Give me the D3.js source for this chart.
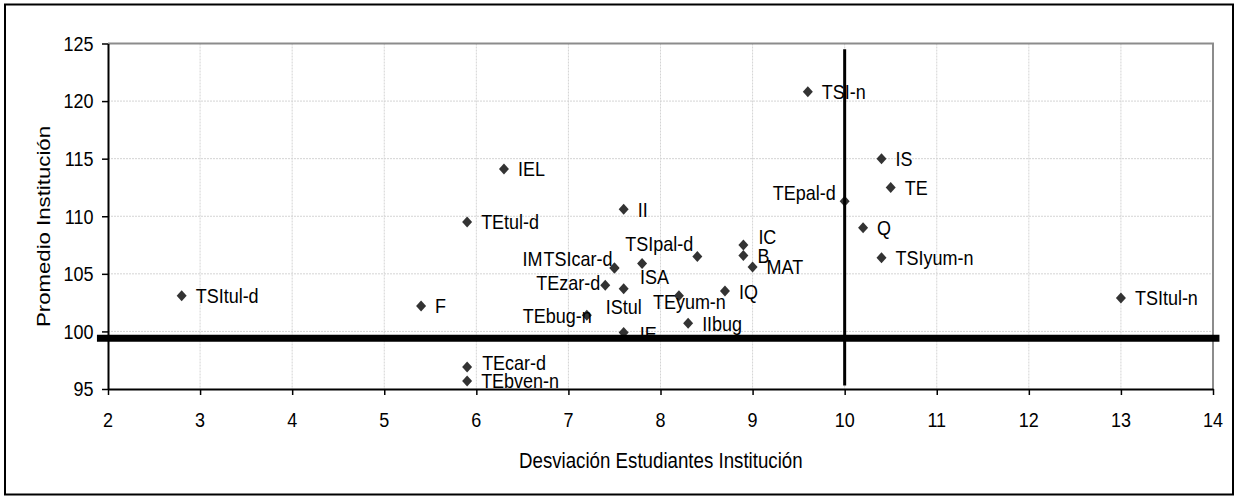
<!DOCTYPE html>
<html><head><meta charset="utf-8">
<script src="https://cdn.jsdelivr.net/npm/d3@7"></script>
<style>
body{margin:0;background:#fff}
svg{display:block}
text{font-family:"Liberation Sans",Arial,sans-serif;fill:#000}
</style>
</head><body>
<svg id="chart" width="1237" height="499"></svg>
<script>
// ---- data ----
const names = ["TSItul-d","F","TEcar-d","TEbven-n","IEL","TEtul-d","II","IM","TSIcar-d","TEzar-d",
  "IStul","TEbug-n","IE","ISA","TSIpal-d","TEyum-n","IIbug","IQ","IC","B","MAT","TSI-n",
  "TEpal-d","IS","TE","Q","TSIyum-n","TSItul-n"];
const xValues = [2.8,5.4,5.9,5.9,6.3,5.9,7.6,7.5,7.5,7.4,
  7.6,7.2,7.6,7.8,8.4,8.2,8.3,8.7,8.9,8.9,9.0,9.6,
  10.0,10.4,10.5,10.2,10.4,13.0];
const yValues = [103.1,102.2,96.9,95.7,114.1,109.5,110.6,105.5,105.5,104.0,
  103.7,101.4,99.9,105.9,106.5,103.1,100.7,103.5,107.5,106.6,105.6,120.8,
  111.3,115.0,112.5,109.0,106.4,102.9];
const xTicks = [2,3,4,5,6,7,8,9,10,11,12,13,14];
const yTicks = [95,100,105,110,115,120,125];
const xDomain = [2,14];
const yDomain = [95,125];
const xTitle = "Desviación Estudiantes Institución";
const yTitle = "Promedio Institución";
// reference lines (drawn shapes)
const refXValue = 10, refXFrom = 95.3, refXTo = 124.5;
const refYValue = 99.4, refYFrom = 1.88, refYTo = 14.07;

// ---- layout (label placement: anchor, dx, dy in px) ----
const labelPlace = {
  "TEcar-d":["start",15,-5], "IC":["start",15,-8], "TEyum-n":["start",-26,6],
  "TSIpal-d":["end",-4,-13], "ISA":["start",-2,13], "TSIcar-d":["end",-2,-9],
  "IM":["end",-72,-9], "TEzar-d":["end",-5,-3], "IStul":["start",-18,18],
  "TEbug-n":["end",5,0], "IE":["start",16,1], "TEpal-d":["end",-9,-9]
};
const SY = 1.15; // vertical stretch of the original rendering
const FONT = 18;

const svg = d3.select("#chart");
const L = 108, R = 1213, T = 43.5, B = 389;
const x = d3.scaleLinear().domain(xDomain).range([L,R]);
const y = d3.scaleLinear().domain(yDomain).range([B,T]);

// outer frame
svg.append("rect").attr("x",5).attr("y",4.5).attr("width",1228).attr("height",490)
  .attr("fill","none").attr("stroke","#000").attr("stroke-width",2);

// gridlines
const grid = svg.append("g");
grid.selectAll("line.v").data(xTicks.slice(1,-1)).join("line")
  .attr("x1",d=>x(d)).attr("x2",d=>x(d)).attr("y1",T).attr("y2",B)
  .attr("stroke","#d4d4d4").attr("stroke-width",1).attr("stroke-dasharray","2,1");
grid.selectAll("line.h").data(yTicks.slice(1,-1)).join("line")
  .attr("x1",L).attr("x2",R).attr("y1",d=>y(d)).attr("y2",d=>y(d))
  .attr("stroke","#d4d4d4").attr("stroke-width",1).attr("stroke-dasharray","2,1");

// plot-area border (top & right, gray)
svg.append("path").attr("d",`M${L},${T}H${R}V${B}`).attr("fill","none")
  .attr("stroke","#8c8c8c").attr("stroke-width",2);

// axes
const ax = svg.append("g").attr("transform",`translate(0,${B})`)
  .call(d3.axisBottom(x).tickValues(xTicks).tickSize(6).tickSizeOuter(0).tickFormat(""));
const ay = svg.append("g").attr("transform",`translate(${L},0)`)
  .call(d3.axisLeft(y).tickValues(yTicks).tickSize(6).tickSizeOuter(0).tickFormat(""));
[ax,ay].forEach(g=>{
  g.select(".domain").attr("stroke","#000").attr("stroke-width",2);
  g.selectAll(".tick line").attr("stroke","#000").attr("stroke-width",1.5);
});

function stretchText(sel, px, py){
  sel.attr("transform", (d,i)=>`translate(${px(d,i)},${py(d,i)}) scale(1,${SY})`);
}
// tick labels
svg.append("g").selectAll("text").data(xTicks).join("text")
  .attr("text-anchor","middle").style("font-size",FONT+"px").text(d=>d)
  .call(stretchText, d=>x(d), ()=>427.3);
svg.append("g").selectAll("text").data(yTicks).join("text")
  .attr("text-anchor","end").style("font-size",FONT+"px").text(d=>d)
  .call(stretchText, ()=>93.5, d=>y(d)+7.4);

// axis titles
svg.append("text").attr("text-anchor","middle").style("font-size","18.7px")
  .attr("transform",`translate(660.8,467.5) scale(1,${SY})`).text(xTitle);
svg.append("text").attr("text-anchor","middle").style("font-size","18.5px")
  .attr("transform",`translate(50,226.5) rotate(-90) scale(1.2,1)`).text(yTitle);

// points
const pts = names.map((n,i)=>({name:n, xv:xValues[i], yv:yValues[i]}));
const sym = d3.symbol().type(d3.symbolSquare).size(50);
svg.append("g").selectAll("path").data(pts).join("path")
  .attr("d",sym)
  .attr("transform",d=>`translate(${x(d.xv)},${y(d.yv)}) scale(1,1.1) rotate(45)`)
  .attr("fill","#333");

// labels
svg.append("g").selectAll("text").data(pts).join("text")
  .style("font-size",FONT+"px")
  .attr("text-anchor",d=>(labelPlace[d.name]||["start"])[0])
  .text(d=>d.name)
  .call(stretchText,
    d=>x(d.xv)+(labelPlace[d.name]||["start",14,0])[1],
    d=>y(d.yv)+(labelPlace[d.name]||["start",14,0])[2]+7.4);

// reference lines (on top)
svg.append("line").attr("x1",x(refXValue)).attr("x2",x(refXValue))
  .attr("y1",y(refXFrom)).attr("y2",y(refXTo)).attr("stroke","#000").attr("stroke-width",3);
svg.append("line").attr("x1",x(refYFrom)).attr("x2",x(refYTo))
  .attr("y1",y(refYValue)).attr("y2",y(refYValue)).attr("stroke","#000").attr("stroke-width",7);
</script>
</body></html>
